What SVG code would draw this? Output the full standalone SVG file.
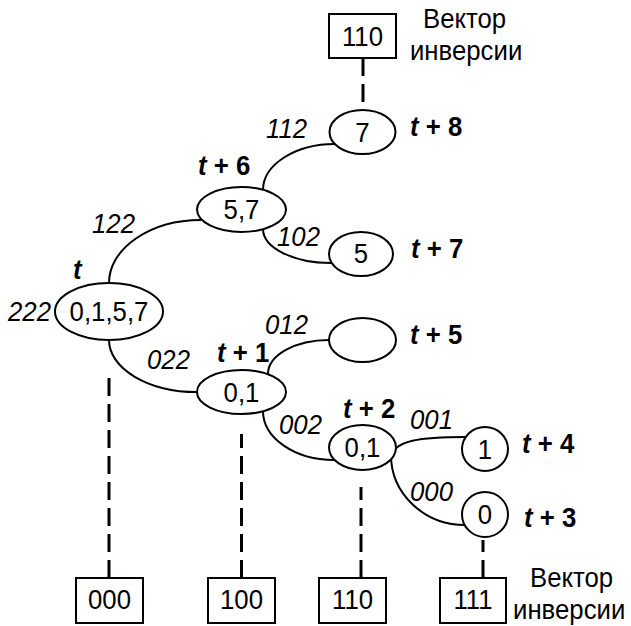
<svg xmlns="http://www.w3.org/2000/svg" width="631" height="626" viewBox="0 0 631 626">
<style>
.n{fill:#fff;stroke:#000;stroke-width:2}
.e{fill:none;stroke:#000;stroke-width:2}
.d{fill:none;stroke:#000;stroke-width:3;stroke-dasharray:18 8}
text{font-family:"Liberation Sans",Arial,sans-serif;font-size:28px;fill:#000;transform:scale(0.92,1)}
.c{text-anchor:middle}
.i{font-style:italic}
.b{font-weight:bold}
</style>
<rect width="631" height="626" fill="#fff"/>
<g id="connectors">
<path class="e" d="M109,283 A92,63 0 0 1 201,220"/>
<path class="e" d="M263,190 A72,46 0 0 1 335,144"/>
<path class="e" d="M263,229 A68,34 0 0 0 331,263"/>
<path class="e" d="M109,340 A88,52 0 0 0 197,392"/>
<path class="e" d="M268,374 A61,34 0 0 1 329,340"/>
<path class="e" d="M263,411 A71,49 0 0 0 334,460"/>
<path class="e" d="M392,455 C396,441 418,437 466,437"/>
<path class="e" d="M391,455 A74,70 0 0 0 465,525"/>
<path class="d" d="M363,58 V110"/>
<path class="d" d="M109,578 V370"/>
<path class="d" d="M241.5,578 V434"/>
<path class="d" d="M361,578 V487"/>
<path class="d" d="M483,578 V540"/>
</g>
<g id="vec-top">
<rect class="n" x="329" y="14" width="67" height="44"/>
<text class="c" x="394.02" y="46">110</text>
<text x="459.78" y="28">Вектор</text>
<text x="445.65" y="60">инверсии</text>
</g>
<g id="node-t8">
<ellipse class="n" cx="362.5" cy="132" rx="33" ry="22"/>
<text class="c" x="394.02" y="142">7</text>
<text x="445.65" y="136"><tspan class="b i">t</tspan><tspan class="b"> + 8</tspan></text>
</g>
<g id="node-t6">
<ellipse class="n" cx="241.5" cy="209.5" rx="44.5" ry="22.5"/>
<text class="c" x="262.5" y="219.5">5,7</text>
<text x="215.22" y="175"><tspan class="b i">t</tspan><tspan class="b"> + 6</tspan></text>
</g>
<g id="node-t7">
<ellipse class="n" cx="361" cy="254" rx="32" ry="22"/>
<text class="c" x="392.39" y="263">5</text>
<text x="446.74" y="258"><tspan class="b i">t</tspan><tspan class="b"> + 7</tspan></text>
</g>
<g id="node-t">
<ellipse class="n" cx="109" cy="311.5" rx="54" ry="28.5"/>
<text class="c" x="118.48" y="321.5">0,1,5,7</text>
<text class="b i" x="79.35" y="279">t</text>
</g>
<g id="node-t5">
<ellipse class="n" cx="362.5" cy="340" rx="33.5" ry="22"/>
<text x="445.65" y="344"><tspan class="b i">t</tspan><tspan class="b"> + 5</tspan></text>
</g>
<g id="node-t1">
<ellipse class="n" cx="241.5" cy="392" rx="44.5" ry="22"/>
<text class="c" x="262.5" y="402">0,1</text>
<text x="235.87" y="362"><tspan class="b i">t</tspan><tspan class="b"> + 1</tspan></text>
</g>
<g id="node-t2">
<ellipse class="n" cx="362.5" cy="447.5" rx="33.5" ry="22.5"/>
<text class="c" x="394.02" y="457.5">0,1</text>
<text x="372.83" y="418"><tspan class="b i">t</tspan><tspan class="b"> + 2</tspan></text>
</g>
<g id="node-t4">
<ellipse class="n" cx="485" cy="449" rx="23" ry="22"/>
<text class="c" x="527.17" y="459">1</text>
<text x="567.39" y="453"><tspan class="b i">t</tspan><tspan class="b"> + 4</tspan></text>
</g>
<g id="node-t3">
<ellipse class="n" cx="485" cy="514.5" rx="23" ry="22.5"/>
<text class="c" x="527.17" y="524">0</text>
<text x="569.57" y="527"><tspan class="b i">t</tspan><tspan class="b"> + 3</tspan></text>
</g>
<g id="edge-labels">
<text class="i" x="289.13" y="138">112</text>
<text class="i" x="100" y="233">122</text>
<text class="i" x="301.09" y="246">102</text>
<text class="i" x="8.7" y="321">222</text>
<text class="i" x="288.04" y="334">012</text>
<text class="i" x="159.78" y="369">022</text>
<text class="i" x="303.26" y="434">002</text>
<text class="i" x="445.65" y="429">001</text>
<text class="i" x="445.65" y="501">000</text>
</g>
<g id="vec-000">
<rect class="n" x="76" y="578" width="67" height="45"/>
<text class="c" x="119.02" y="609.5">000</text>
</g>
<g id="vec-100">
<rect class="n" x="208" y="578" width="67" height="45"/>
<text class="c" x="262.5" y="609.5">100</text>
</g>
<g id="vec-110">
<rect class="n" x="319" y="578" width="67" height="45"/>
<text class="c" x="383.15" y="609.5">110</text>
</g>
<g id="vec-111">
<rect class="n" x="440" y="578" width="66" height="45"/>
<text class="c" x="514.13" y="609.5">111</text>
<text x="576.09" y="587">Вектор</text>
<text x="557.61" y="619">инверсии</text>
</g>
</svg>
